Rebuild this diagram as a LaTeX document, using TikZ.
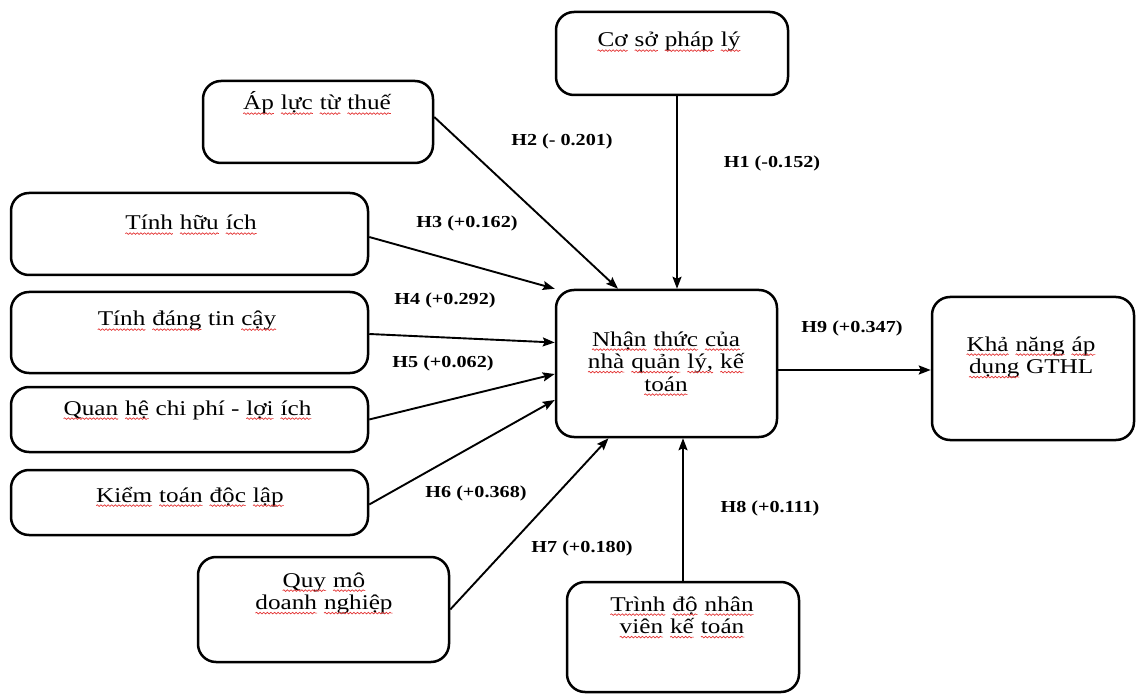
\documentclass[tikz,border=0pt]{standalone}
\usepackage{fontspec}
\setmainfont{Liberation Serif}[FakeStretch=1.2]
\usetikzlibrary{arrows.meta,decorations.pathmorphing}

\definecolor{wavered}{RGB}{228,52,52}

% word with a red wavy underline
\newcommand\sw[1]{\tikz[baseline=(sw.base)]{%
  \node[inner sep=0pt,outer sep=0pt] (sw) {#1};%
  \draw[wavered,line width=0.7pt,decorate,
        decoration={snake,amplitude=0.8pt,segment length=3.6pt}]
    ([yshift=-3.6pt]sw.base west) -- ([yshift=-3.6pt]sw.base east);}}

\tikzset{
  box/.style={draw=black,line width=2.5pt,rounded corners=18pt,inner sep=0pt,fill=white},
  txt/.style={font=\fontsize{21}{22.5}\selectfont,inner sep=0pt,anchor=base},
  hyp/.style={font=\bfseries\fontsize{16.8}{18}\selectfont,inner sep=0pt},
  arr/.style={line width=1.9pt,-{Stealth[length=12pt,width=9pt,inset=2pt]}},
}

\begin{document}
\begin{tikzpicture}[x=1pt,y=-1pt]
\useasboundingbox[fill=white] (0,0) rectangle (1136,695);

% boxes
\node[box,minimum width=232pt,minimum height=83pt]  (cs)  at (672,53.5)   {};
\node[box,minimum width=230pt,minimum height=82pt]  (ap)  at (318,122)    {};
\node[box,minimum width=357pt,minimum height=82pt]  (hi)  at (189.5,234)  {};
\node[box,minimum width=357pt,minimum height=81pt]  (dtc) at (189.5,332.5){};
\node[box,minimum width=357pt,minimum height=65pt]  (qh)  at (189.5,419.5){};
\node[box,minimum width=357pt,minimum height=65pt]  (kt)  at (189.5,502.5){};
\node[box,minimum width=251pt,minimum height=105pt] (qm)  at (323.5,609.5){};
\node[box,minimum width=221pt,minimum height=147pt] (nt)  at (666.5,363.5){};
\node[box,minimum width=202pt,minimum height=143pt] (kn)  at (1033,368.5) {};
\node[box,minimum width=232pt,minimum height=110pt] (td)  at (683,637)    {};

% box texts
\node[txt] (cs-t)  at (669,47)  {\sw{Cơ} \sw{sở} \sw{pháp} \sw{lý}};
\node[txt] (ap-t)  at (317,110) {\sw{Áp} \sw{lực} \sw{từ} \sw{thuế}};
\node[txt] (hi-t)  at (191,230) {\sw{Tính} \sw{hữu} \sw{ích}};
\node[txt] (dtc-t) at (187,326) {\sw{Tính} \sw{đáng} tin \sw{cậy}};
\node[txt] (qh-t)  at (187.5,415) {\sw{Quan} \sw{hệ} chi phí - \sw{lợi} \sw{ích}};
\node[txt] (kt-t)  at (190,502) {\sw{Kiểm} \sw{toán} \sw{độc} \sw{lập}};
\node[txt] (qm-t)  at (324,587) {\begin{tabular}[t]{@{}c@{}}\sw{Quy} \sw{mô}\\ \sw{doanh} \sw{nghiệp}\end{tabular}};
\node[txt] (nt-t)  at (666,346) {\begin{tabular}[t]{@{}c@{}}\sw{Nhận} \sw{thức} \sw{của}\\ \sw{nhà} \sw{quản} \sw{lý,} \sw{kế}\\ \sw{toán}\end{tabular}};
\node[txt] (kn-t)  at (1031,351) {\begin{tabular}[t]{@{}c@{}}\sw{Khả} \sw{năng} \sw{áp}\\ \sw{dụng} GTHL\end{tabular}};
\node[txt] (td-t)  at (682,611) {\begin{tabular}[t]{@{}c@{}}\sw{Trình} \sw{độ} \sw{nhân}\\ \sw{viên} \sw{kế} \sw{toán}\end{tabular}};

% connectors
\draw[arr] ([xshift=5pt]cs.south) -- ([xshift=5pt]cs.south |- nt.north);
\draw[arr] ([yshift=5pt]ap.east) -- ([xshift=-48.5pt]nt.north);
\draw[arr] ([yshift=-3pt]hi.east) -- (nt.north west);
\draw[arr] ([yshift=-1.5pt]dtc.east) -- ([yshift=21pt]nt.west);
\draw[arr] (qh.east) -- ([yshift=-10.5pt]nt.west);
\draw[arr] ([yshift=-2pt]kt.east) -- ([yshift=-36.5pt]nt.west);
\draw[arr] (qm.east) -- ([xshift=-58pt]nt.south);
\draw[arr] (td.north) -- (td.north |- nt.south);
\draw[arr] ([yshift=-6.5pt]nt.east) -- ([yshift=-6.5pt]nt.east -| kn.west);

% path coefficients
\node[hyp] (l2) at (562,141) {H2 (- 0.201)};
\node[hyp] (l1) at (772,163) {H1 (-0.152)};
\node[hyp] (l3) at (467,223) {H3 (+0.162)};
\node[hyp] (l4) at (445,300) {H4 (+0.292)};
\node[hyp] (l5) at (443,363) {H5 (+0.062)};
\node[hyp] (l6) at (476,493) {H6 (+0.368)};
\node[hyp] (l7) at (582,548) {H7 (+0.180)};
\node[hyp] (l8) at (770,508) {H8 (+0.111)};
\node[hyp] (l9) at (852,328) {H9 (+0.347)};
\end{tikzpicture}
\end{document}
